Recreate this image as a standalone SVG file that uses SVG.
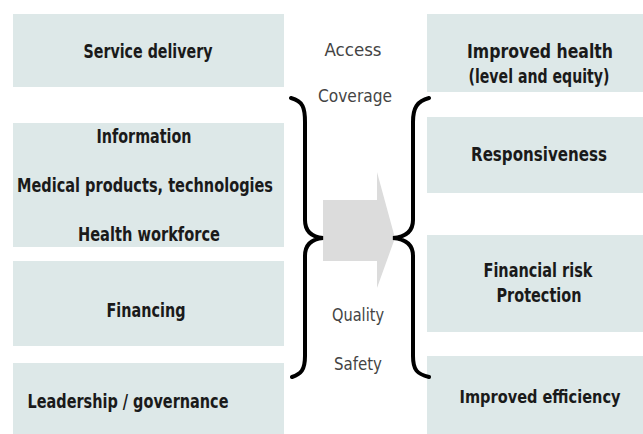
<svg xmlns="http://www.w3.org/2000/svg" width="643" height="434" viewBox="0 0 643 434">
<style>
.box{fill:#dde8e8}
.t{font-family:"Liberation Sans Narrow","DejaVu Sans Condensed","Liberation Sans",sans-serif;font-weight:bold;font-size:19px;fill:#1a1a1a;text-anchor:middle}
.m{font-family:"Liberation Sans Narrow","DejaVu Sans Condensed","Liberation Sans",sans-serif;font-size:17px;fill:#444;text-anchor:middle}
.brace{fill:none;stroke:#000;stroke-width:4;stroke-linecap:round}
</style>
<rect width="643" height="434" fill="#fff"/>
<g id="service-delivery"><rect class="box" x="13" y="14" width="271" height="73"/><text class="t" x="148" y="58" textLength="129" lengthAdjust="spacingAndGlyphs">Service delivery</text></g>
<g id="info-products-workforce"><rect class="box" x="13" y="123" width="271" height="124"/>
<text class="t" x="144" y="143" textLength="95" lengthAdjust="spacingAndGlyphs">Information</text>
<text class="t" x="145" y="192" textLength="256" lengthAdjust="spacingAndGlyphs">Medical products, technologies</text>
<text class="t" x="149" y="241" textLength="142" lengthAdjust="spacingAndGlyphs">Health workforce</text></g>
<g id="financing"><rect class="box" x="13" y="261" width="271" height="85"/><text class="t" x="146" y="317" textLength="79" lengthAdjust="spacingAndGlyphs">Financing</text></g>
<g id="leadership"><rect class="box" x="13" y="363" width="271" height="71"/><text class="t" x="128" y="408" textLength="201" lengthAdjust="spacingAndGlyphs">Leadership / governance</text></g>
<g id="improved-health"><rect class="box" x="427" y="14" width="216" height="78"/>
<text class="t" x="540" y="58" textLength="146" lengthAdjust="spacingAndGlyphs">Improved health</text>
<text class="t" x="539" y="83" textLength="141" lengthAdjust="spacingAndGlyphs">(level and equity)</text></g>
<g id="responsiveness"><rect class="box" x="427" y="117" width="216" height="76"/><text class="t" x="539" y="161" textLength="136" lengthAdjust="spacingAndGlyphs">Responsiveness</text></g>
<g id="financial-risk"><rect class="box" x="427" y="235" width="216" height="97"/>
<text class="t" x="538" y="277" textLength="109" lengthAdjust="spacingAndGlyphs">Financial risk</text>
<text class="t" x="539" y="302" textLength="85" lengthAdjust="spacingAndGlyphs">Protection</text></g>
<g id="improved-efficiency"><rect class="box" x="427" y="356" width="216" height="78"/><text class="t" x="540" y="403" style="font-size:17px" textLength="161" lengthAdjust="spacingAndGlyphs">Improved efficiency</text></g>
<g id="connectors">
<polygon points="323,200 377,200 377,172 395,238 377,288 377,261 323,261" fill="#dcdcdc"/>
<path class="brace" d="M291,98 C303,101 305,108 305,122 L305,220 C305,232 312,237 323,238 C312,239 305,244 305,256 L305,356 C305,370 301,374 292,377"/>
<path class="brace" d="M429,98 C417,101 413,108 413,122 L413,220 C413,232 405,237 393,238 C405,239 413,244 413,256 L413,356 C413,370 417,374 429,377"/>
<text class="m" x="353" y="56" textLength="57" lengthAdjust="spacingAndGlyphs">Access</text>
<text class="m" x="355" y="102" textLength="74" lengthAdjust="spacingAndGlyphs">Coverage</text>
<text class="m" x="358" y="321" textLength="52" lengthAdjust="spacingAndGlyphs">Quality</text>
<text class="m" x="358" y="370" textLength="48" lengthAdjust="spacingAndGlyphs">Safety</text>
</g>
</svg>
